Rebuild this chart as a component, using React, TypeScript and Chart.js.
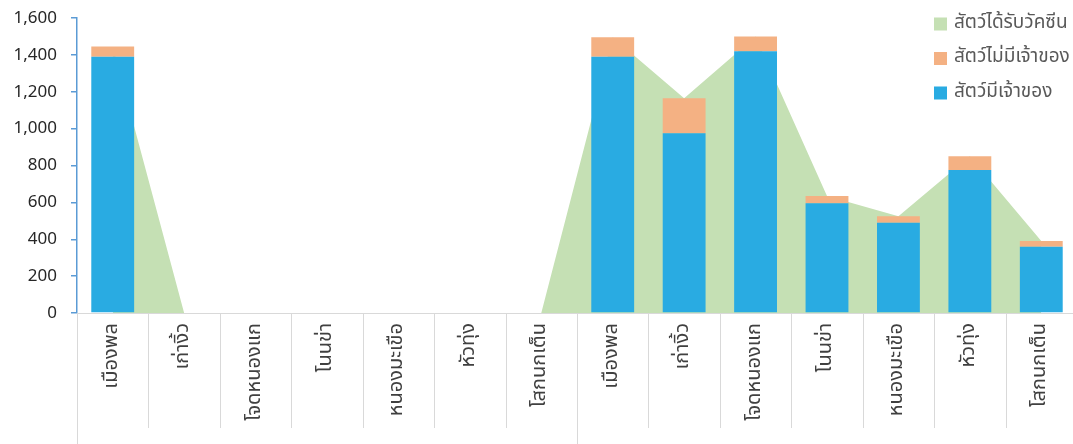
import { useEffect, useRef } from "react";
import { Chart, registerables } from "chart.js";

Chart.register(...registerables);

// Districts appear twice: one block per survey round
const districts = ["เมืองพล", "เก่างิ้ว", "โจดหนองแก", "โนนข่า", "หนองมะเขือ", "หัวทุ่ง", "โสกนกเต็น"];
const categories = [...districts, ...districts];

// Animals with owners (blue), without owners (orange), vaccinated (green area)
const owned = [1390, 0, 0, 0, 0, 0, 0, 1390, 975, 1420, 595, 490, 775, 360];
const stray = [55, 0, 0, 0, 0, 0, 0, 105, 190, 80, 40, 35, 75, 30];
const vaccinated = [1445, 0, 0, 0, 0, 0, 0, 1495, 1165, 1500, 635, 525, 850, 390];

const yMin = 0;
const yMax = 1600;
const yStep = 200;

const BLUE = "#29ABE2";
const ORANGE = "#F4B183";
const GREEN = "#C5E0B4";
const AXIS_BLUE = "#5B9BD5";
const SEP_GRAY = "#D9D9D9";

const THAI_FONT = "'Noto Sans Thai', 'Noto Sans', sans-serif";

const legendItems = [
  { text: "สัตว์ได้รับวัคซีน", color: GREEN },
  { text: "สัตว์ไม่มีเจ้าของ", color: ORANGE },
  { text: "สัตว์มีเจ้าของ", color: BLUE },
];

// Vertical separators between categories, longer ones between the two blocks
const separatorPlugin = {
  id: "separators",
  afterDraw(chart: any) {
    const x = chart.scales.x;
    const ctx = chart.ctx;
    const n = categories.length;
    const w = (x.right - x.left) / n;
    ctx.save();
    ctx.strokeStyle = SEP_GRAY;
    ctx.lineWidth = 1;
    for (let i = 0; i <= n; i++) {
      const px = Math.round(x.left + i * w) + 0.5;
      const isGroup = i % districts.length === 0;
      const bottom = isGroup ? chart.height : x.top + 115;
      ctx.beginPath();
      ctx.moveTo(px, x.top);
      ctx.lineTo(px, bottom);
      ctx.stroke();
    }
    ctx.restore();
  },
};

// Legend stacked in the top-right corner over the plot
const legendPlugin = {
  id: "cornerLegend",
  afterDraw(chart: any) {
    const ctx = chart.ctx;
    ctx.save();
    ctx.font = `19px ${THAI_FONT}`;
    ctx.textBaseline = "middle";
    ctx.textAlign = "left";
    legendItems.forEach((item, i) => {
      const cy = 24 + i * 34.5;
      ctx.fillStyle = item.color;
      ctx.fillRect(934, cy - 6.5, 13, 13);
      ctx.fillStyle = "#595959";
      ctx.fillText(item.text, 954, cy);
    });
    ctx.restore();
  },
};

export default function App() {
  const canvasRef = useRef<HTMLCanvasElement | null>(null);

  useEffect(() => {
    const canvas = canvasRef.current;
    if (!canvas) return;
    const chart = new Chart(canvas, {
      type: "bar",
      data: {
        labels: categories,
        datasets: [
          {
            type: "bar",
            label: "สัตว์มีเจ้าของ",
            data: owned,
            backgroundColor: BLUE,
            stack: "animals",
            order: 1,
            barPercentage: 0.6,
            categoryPercentage: 1,
          },
          {
            type: "bar",
            label: "สัตว์ไม่มีเจ้าของ",
            data: stray,
            backgroundColor: ORANGE,
            stack: "animals",
            order: 1,
            barPercentage: 0.6,
            categoryPercentage: 1,
          },
          {
            type: "line",
            label: "สัตว์ได้รับวัคซีน",
            data: vaccinated,
            backgroundColor: GREEN,
            borderWidth: 0,
            pointRadius: 0,
            tension: 0,
            fill: "origin",
            stack: "vaccine",
            order: 2,
          } as any,
        ],
      },
      options: {
        responsive: false,
        animation: false,
        layout: { padding: { top: 18, right: 4, left: 0, bottom: 0 } },
        plugins: {
          legend: { display: false },
          tooltip: { enabled: false },
        },
        scales: {
          x: {
            stacked: true,
            offset: true,
            grid: { display: false, drawTicks: false },
            border: { display: true, color: SEP_GRAY, width: 1 },
            ticks: {
              autoSkip: false,
              minRotation: 90,
              maxRotation: 90,
              padding: 10,
              color: "#404040",
              font: { family: THAI_FONT, size: 20 },
            },
            afterFit(scale: any) {
              scale.height = 131;
              scale.paddingTop = 0;
              scale.paddingBottom = 0;
            },
          },
          y: {
            stacked: true,
            min: yMin,
            max: yMax,
            grid: {
              drawOnChartArea: false,
              drawTicks: true,
              tickLength: 6,
              color: AXIS_BLUE,
              lineWidth: 1.5,
            },
            border: { display: true, color: AXIS_BLUE, width: 1.5 },
            ticks: {
              stepSize: yStep,
              padding: 14,
              color: "#262626",
              font: { family: "'Noto Sans', sans-serif", size: 17 },
              callback: (v: any) => Number(v).toLocaleString("en-US"),
            },
            afterFit(scale: any) {
              scale.width = 77;
              scale.paddingTop = 0;
              scale.paddingBottom = 0;
            },
          },
        },
      },
      plugins: [separatorPlugin, legendPlugin],
    });
    return () => chart.destroy();
  }, []);

  return (
    <div style={{ position: "fixed", left: 0, top: 0, width: 1073, height: 444, overflow: "hidden", background: "#fff" }}>
      <canvas ref={canvasRef} width={1081} height={444} style={{ display: "block" }} />
    </div>
  );
}
